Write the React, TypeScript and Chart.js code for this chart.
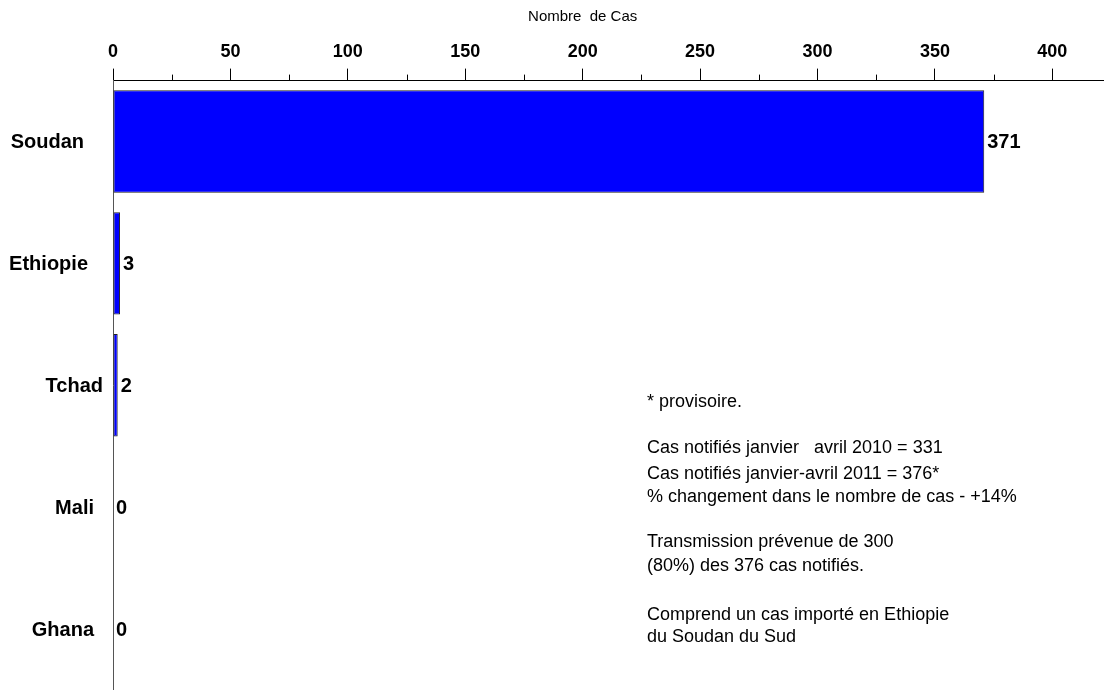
import React, { useEffect, useRef } from "react";
import { Chart, registerables } from "chart.js";

Chart.register(...registerables);

const categories = ["Soudan", "Ethiopie", "Tchad", "Mali", "Ghana"];
const cases = [371, 3, 2, 0, 0];
const xTickValues = [0, 50, 100, 150, 200, 250, 300, 350, 400];
const minorTickValues = [25, 75, 125, 175, 225, 275, 325, 375];
const axisTitle = "Nombre  de Cas";
const notes = [
  "* provisoire.",
  "Cas notifiés janvier   avril 2010 = 331",
  "Cas notifiés janvier-avril 2011 = 376*",
  "% changement dans le nombre de cas - +14%",
  "Transmission prévenue de 300",
  "(80%) des 376 cas notifiés.",
  "Comprend un cas importé en Ethiopie",
  "du Soudan du Sud",
];

// layout (not data)
const noteX = 647;
const noteY = [402, 448, 474, 497, 542, 566, 615, 637];
const labelRightX = [84, 88, 103, 94, 94];
const FONT = "'Liberation Sans', Arial, Helvetica, sans-serif";

const customDraw = {
  id: "customDraw",
  afterDraw(chart: any) {
    const ctx = chart.ctx;
    const xs = chart.scales.x;
    const ys = chart.scales.y;
    ctx.save();
    // minor ticks
    ctx.strokeStyle = "#000";
    ctx.lineWidth = 1;
    const top = chart.chartArea.top;
    minorTickValues.forEach((v) => {
      const px = Math.round(xs.getPixelForValue(v)) + 0.5;
      ctx.beginPath();
      ctx.moveTo(px, top - 6);
      ctx.lineTo(px, top);
      ctx.stroke();
    });
    // axis title
    ctx.fillStyle = "#000";
    ctx.font = `15px ${FONT}`;
    ctx.textAlign = "center";
    ctx.textBaseline = "middle";
    ctx.fillText(axisTitle, xs.getPixelForValue(200), 17);
    // category labels
    ctx.font = `bold 20px ${FONT}`;
    ctx.textAlign = "right";
    categories.forEach((c, i) => {
      ctx.fillText(c, labelRightX[i], ys.getPixelForValue(i) + 1);
    });
    // data labels
    const meta = chart.getDatasetMeta(0);
    ctx.textAlign = "left";
    meta.data.forEach((bar: any, i: number) => {
      ctx.fillText(String(cases[i]), bar.x + 3, bar.y + 1);
    });
    // notes
    ctx.font = `18px ${FONT}`;
    notes.forEach((t, i) => {
      ctx.fillText(t, noteX, noteY[i]);
    });
    ctx.restore();
  },
};

export default function App() {
  const ref = useRef<HTMLCanvasElement>(null);
  useEffect(() => {
    if (!ref.current) return;
    const chart = new Chart(ref.current, {
      type: "bar",
      data: {
        labels: categories,
        datasets: [
          {
            data: cases,
            backgroundColor: "#0000FF",
            borderColor: "#222222",
            borderWidth: 1,
            borderSkipped: false,
            barPercentage: 0.84,
            categoryPercentage: 1,
          },
        ],
      },
      options: {
        indexAxis: "y",
        responsive: false,
        animation: false,
        layout: { padding: { top: 35, left: 105, right: 0, bottom: 0 } },
        plugins: {
          legend: { display: false },
          tooltip: { enabled: false },
          title: { display: false },
        },
        scales: {
          x: {
            position: "top",
            min: 0,
            max: 422,
            afterBuildTicks: (scale: any) => {
              scale.ticks = xTickValues.map((v) => ({ value: v }));
            },
            grid: {
              drawOnChartArea: false,
              tickLength: 12,
              color: "#000",
              tickColor: "#000",
            },
            border: { display: true, color: "#000", width: 1 },
            ticks: {
              padding: 6,
              color: "#000",
              font: { family: FONT, size: 18, weight: "bold" },
              maxRotation: 0,
            },
          },
          y: {
            grid: { display: false },
            border: { display: true, color: "#555", width: 1 },
            ticks: { display: false },
          },
        },
      },
      plugins: [customDraw],
    } as any);
    return () => chart.destroy();
  }, []);
  return (
    <div style={{ position: "fixed", top: 0, left: 0, width: 1104, height: 690, background: "#fff" }}>
      <canvas ref={ref} width={1104} height={690} style={{ width: 1104, height: 690 }} />
    </div>
  );
}
